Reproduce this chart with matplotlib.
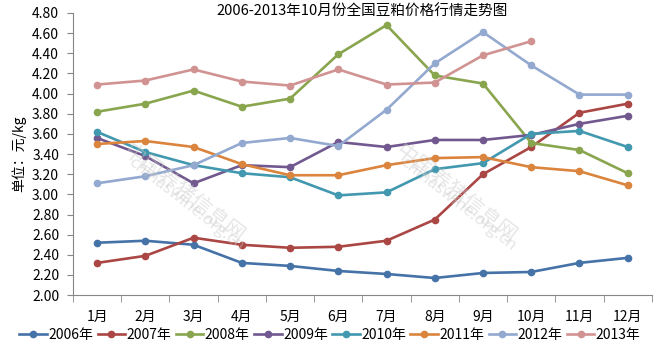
import matplotlib
matplotlib.use("Agg")
from matplotlib import pyplot as plt

plt.rcParams['font.family'] = ['Noto Sans CJK SC', 'DejaVu Sans']

months = ['1月', '2月', '3月', '4月', '5月', '6月', '7月', '8月', '9月', '10月', '11月', '12月']
years = ['2006年', '2007年', '2008年', '2009年', '2010年', '2011年', '2012年', '2013年']

p2006 = [2.52, 2.54, 2.50, 2.32, 2.29, 2.24, 2.21, 2.17, 2.22, 2.23, 2.32, 2.37]
p2007 = [2.32, 2.39, 2.57, 2.50, 2.47, 2.48, 2.54, 2.75, 3.20, 3.47, 3.81, 3.90]
p2008 = [3.82, 3.90, 4.03, 3.87, 3.95, 4.39, 4.68, 4.18, 4.10, 3.51, 3.44, 3.21]
p2009 = [3.56, 3.38, 3.11, 3.29, 3.27, 3.52, 3.47, 3.54, 3.54, 3.59, 3.70, 3.78]
p2010 = [3.62, 3.42, 3.29, 3.21, 3.17, 2.99, 3.02, 3.25, 3.31, 3.60, 3.63, 3.47]
p2011 = [3.50, 3.53, 3.47, 3.30, 3.19, 3.19, 3.29, 3.36, 3.37, 3.27, 3.23, 3.09]
p2012 = [3.11, 3.18, 3.29, 3.51, 3.56, 3.48, 3.84, 4.30, 4.61, 4.28, 3.99, 3.99]
p2013 = [4.09, 4.13, 4.24, 4.12, 4.08, 4.24, 4.09, 4.11, 4.38, 4.52]

series = [p2006, p2007, p2008, p2009, p2010, p2011, p2012, p2013]
colors = ['#4572A7', '#AA4643', '#89A54E', '#71588F', '#4198AF', '#DB843D', '#93A9CF', '#D19392']

fig = plt.figure(figsize=(6.6, 3.42), dpi=100)
ax = fig.add_axes([0.1106, 0.137, 0.877, 0.825])

for name, vals, c in zip(years, series, colors):
    ax.plot(range(len(vals)), vals, color=c, lw=1.9, marker='o', ms=4.5,
            label=name, solid_joinstyle='round')

ax.set_xlim(-0.5, 11.5)
ax.set_ylim(2.0, 4.8)
ax.set_yticks([2.0 + 0.2 * i for i in range(15)])
ax.set_yticklabels(['%.2f' % (2.0 + 0.2 * i) for i in range(15)], fontsize=10)
ax.set_xticks(range(12))
ax.set_xticklabels(months, fontsize=10)
ax.set_xticks([i - 0.5 for i in range(13)], minor=True)
ax.tick_params(axis='x', which='major', length=0, pad=11)
ax.tick_params(axis='x', which='minor', length=5, color='#868686')
ax.tick_params(axis='y', length=4, color='#868686', pad=6)

for s in ['top', 'right']:
    ax.spines[s].set_visible(False)
for s in ['left', 'bottom']:
    ax.spines[s].set_color('#868686')

ax.set_ylabel('单位：元/kg', fontsize=10, labelpad=4)
ax.set_title('2006-2013年10月份全国豆粕价格行情走势图', fontsize=10.5, y=0.99, pad=0)

# faint site watermark
for x0, y0 in [(0.08, 0.55), (0.55, 0.55)]:
    ax.text(x0, y0, '中国养猪信息网', transform=ax.transAxes, fontsize=15,
            color='#c8c8c8', alpha=0.45, rotation=-38, ha='left', va='top')
    ax.text(x0 + 0.01, y0 - 0.05, 'chinaswine.org.cn', transform=ax.transAxes,
            fontsize=12, color='#c8c8c8', alpha=0.45, rotation=-38, ha='left', va='top')

fig.legend(loc='lower center', bbox_to_anchor=(0.5, -0.005), ncol=8, frameon=False,
           fontsize=10, handlelength=2.0, handletextpad=0.1, columnspacing=0.3,
           borderaxespad=0.0, borderpad=0.1)

fig.savefig('out.png', dpi=100)
